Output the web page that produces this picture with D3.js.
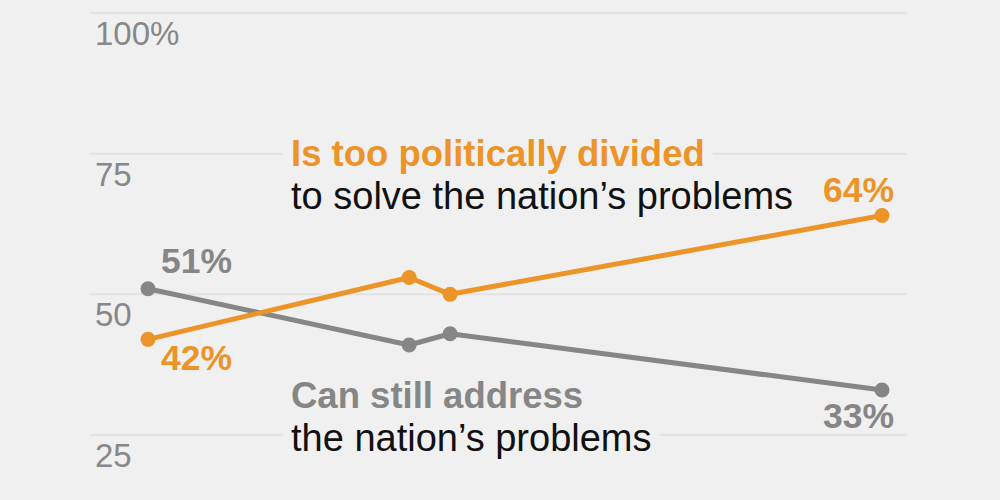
<!DOCTYPE html>
<html>
<head>
<meta charset="utf-8">
<script src="https://cdn.jsdelivr.net/npm/d3@7"></script>
<style>
  html, body { margin: 0; padding: 0; background: #f0f0f0; }
  svg { display: block; font-family: "Liberation Sans", Arial, sans-serif; }
</style>
</head>
<body>
<svg id="chart" width="1000" height="500"></svg>
<script>
// survey dates (approximate) and shares in percent
const surveyDates = ["2018-01-01", "2020-09-01", "2021-02-01", "2025-07-01"];
const dividedValues = [42, 53, 50, 64];
const addressValues = [51, 41, 43, 33];
const yTicks = [100, 75, 50, 25];
const tickLabels = ["100%", "75", "50", "25"];

const orange = "#ec9428";
const gray = "#868686";
const bg = "#f0f0f0";

const svg = d3.select("#chart");
const parse = d3.timeParse("%Y-%m-%d");
const dates = surveyDates.map(parse);

// scales
const x = d3.scaleTime().domain(d3.extent(dates)).range([148, 882]);
const y = d3.scaleLinear().domain([25, 100]).range([435, 13]);

// gridlines
const grid = svg.append("g").attr("class", "grid");
grid.selectAll("line")
  .data(yTicks)
  .join("line")
  .attr("x1", 90).attr("x2", 907)
  .attr("y1", d => y(d)).attr("y2", d => y(d))
  .attr("stroke", "#e3e3e3")
  .attr("stroke-width", 2);

grid.selectAll("text")
  .data(yTicks)
  .join("text")
  .attr("x", 95)
  .attr("y", d => y(d) + 32)
  .attr("fill", "#888")
  .attr("font-size", 33)
  .text((d, i) => tickLabels[i]);

// annotations, each line with its own background box that cuts the gridline
function annotation(x0, y0, lines) {
  lines.forEach((l, i) => {
    const g = svg.append("g");
    const rect = g.append("rect").attr("fill", bg);
    g.append("text")
      .attr("x", x0)
      .attr("y", y0 + i * 43)
      .attr("font-size", l.bold ? 36.5 : 38)
      .attr("font-weight", l.bold ? "bold" : "normal")
      .attr("fill", l.color)
      .text(l.text);
    const bb = g.select("text").node().getBBox();
    rect.attr("x", bb.x - 8).attr("y", bb.y)
      .attr("width", bb.width + 16).attr("height", bb.height);
  });
}

annotation(291, 166, [
  {text: "Is too politically divided", bold: true, color: orange},
  {text: "to solve the nation’s problems", bold: false, color: "#111"}
]);
annotation(291, 408, [
  {text: "Can still address", bold: true, color: gray},
  {text: "the nation’s problems", bold: false, color: "#111"}
]);

// lines and dots
const line = d3.line().x((d, i) => x(dates[i])).y(d => y(d));

function series(values, color) {
  const g = svg.append("g");
  g.append("path")
    .datum(values)
    .attr("d", line)
    .attr("fill", "none")
    .attr("stroke", color)
    .attr("stroke-width", 5)
    .attr("stroke-linejoin", "round");
  g.selectAll("circle")
    .data(values)
    .join("circle")
    .attr("cx", (d, i) => x(dates[i]))
    .attr("cy", d => y(d))
    .attr("r", 7.5)
    .attr("fill", color);
}
series(addressValues, gray);
series(dividedValues, orange);

// value labels
const last = dates.length - 1;
const labels = [
  {v: addressValues[0], date: dates[0], color: gray, dx: 13, dy: -16, anchor: "start"},
  {v: dividedValues[0], date: dates[0], color: orange, dx: 13, dy: 31, anchor: "start"},
  {v: dividedValues[last], date: dates[last], color: orange, dx: 12, dy: -14, anchor: "end"},
  {v: addressValues[last], date: dates[last], color: gray, dx: 12, dy: 38, anchor: "end"}
];
svg.append("g").selectAll("text")
  .data(labels)
  .join("text")
  .attr("x", d => x(d.date) + d.dx)
  .attr("y", d => y(d.v) + d.dy)
  .attr("text-anchor", d => d.anchor)
  .attr("font-size", 35.5)
  .attr("font-weight", "bold")
  .attr("fill", d => d.color)
  .text(d => d.v + "%");
</script>
</body>
</html>
